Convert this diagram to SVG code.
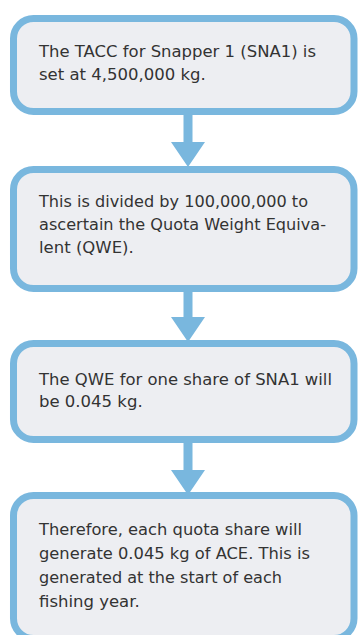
<svg xmlns="http://www.w3.org/2000/svg" width="359" height="635" viewBox="0 0 359 635">
  <style>
    .box { fill: #EDEEF2; stroke: #79B7DE; stroke-width: 7; }
    .arrow { fill: #79B7DE; }
    .label { font-family: "DejaVu Sans", Verdana, sans-serif; font-size: 16.5px; fill: #333333; }
  </style>
  <rect width="359" height="635" fill="#FFFFFF"/>

  <g id="connectors">
    <path class="arrow" d="M183.5 111 H192.5 V142 H205 L188 167 L171 142 H183.5 Z"/>
    <path class="arrow" d="M183.5 288 H192.5 V317 H205 L188 342 L171 317 H183.5 Z"/>
    <path class="arrow" d="M183.5 439 H192.5 V470 H205 L188 495 L171 470 H183.5 Z"/>
  </g>

  <g id="node-tacc">
    <rect class="box" x="13.5" y="18.5" width="340.5" height="93" rx="20"/>
    <text class="label" x="39" y="57" textLength="277" lengthAdjust="spacingAndGlyphs">The TACC for Snapper 1 (SNA1) is</text>
    <text class="label" x="39" y="80">set at 4,500,000 kg.</text>
  </g>

  <g id="node-divide">
    <rect class="box" x="13.5" y="169.5" width="340.5" height="119" rx="20"/>
    <text class="label" x="39" y="207" textLength="269" lengthAdjust="spacingAndGlyphs">This is divided by 100,000,000 to</text>
    <text class="label" x="39" y="230" textLength="287" lengthAdjust="spacingAndGlyphs">ascertain the Quota Weight Equiva-</text>
    <text class="label" x="39" y="253">lent (QWE).</text>
  </g>

  <g id="node-qwe">
    <rect class="box" x="13.5" y="343.5" width="340.5" height="96" rx="20"/>
    <text class="label" x="39" y="385" textLength="293" lengthAdjust="spacingAndGlyphs">The QWE for one share of SNA1 will</text>
    <text class="label" x="39" y="407">be 0.045 kg.</text>
  </g>

  <g id="node-ace">
    <rect class="box" x="13.5" y="495.5" width="340.5" height="143" rx="20"/>
    <text class="label" x="39" y="535" textLength="263" lengthAdjust="spacingAndGlyphs">Therefore, each quota share will</text>
    <text class="label" x="39" y="559" textLength="271" lengthAdjust="spacingAndGlyphs">generate 0.045 kg of ACE. This is</text>
    <text class="label" x="39" y="583" textLength="243" lengthAdjust="spacingAndGlyphs">generated at the start of each</text>
    <text class="label" x="39" y="607">fishing year.</text>
  </g>
</svg>
